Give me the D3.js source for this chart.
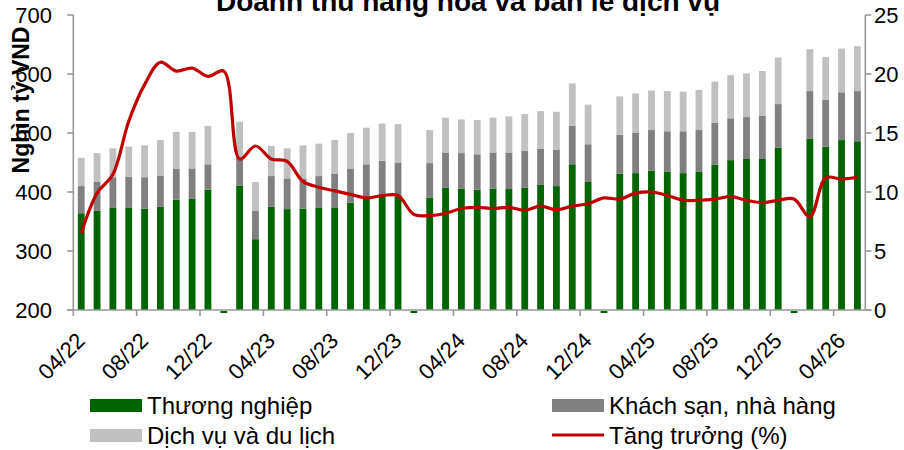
<!DOCTYPE html>
<html><head><meta charset="utf-8">
<script src="https://cdn.jsdelivr.net/npm/d3@7"></script>
<style>body{margin:0;background:#fff}svg{display:block;font-family:Arial,"Liberation Sans",sans-serif}</style>
</head><body><svg id="c" width="904" height="450"></svg>
<script>
const categories = ["04/22","05/22","06/22","07/22","08/22","09/22","10/22","11/22","12/22","01/23",
"02/23","03/23","04/23","05/23","06/23","07/23","08/23","09/23","10/23","11/23",
"12/23","01/24","02/24","03/24","04/24","05/24","06/24","07/24","08/24","09/24",
"10/24","11/24","12/24","01/25","02/25","03/25","04/25","05/25","06/25","07/25",
"08/25","09/25","10/25","11/25","12/25","01/26","02/26","03/26","04/26","05/26"];
const thuongNghiep = [364,368,373,373,372,375,387,389,404,null,
411,320,375,371,372,373,374,382,391,395,
392,null,390,407,406,404,406,405,407,412,
410,447,417,null,431,432,436,434,432,434,
446,454,456,456,475,null,490,477,488,486];
const khachSan = [46,49,52,53,53,53,52,51,43,null,
48,48,52,52,51,54,57,57,56,58,
58,null,59,60,60,60,61,62,63,61,
62,65,64,null,66,68,69,69,71,71,
71,71,71,73,74,null,81,79,81,85];
const dichVu = [48,49,49,51,54,60,63,62,65,null,
60,49,51,51,56,55,57,61,62,63,
65,null,56,59,57,58,59,61,62,64,
64,72,67,null,65,67,67,68,67,68,
70,73,74,76,79,null,71,73,74,76];
const tangTruong = [6.5,9.9,11.5,16.0,19.1,21.0,20.25,20.5,19.8,20.25,
12.8,13.9,12.8,12.6,10.9,10.4,10.1,9.8,9.5,9.7,
9.7,8.1,8.0,8.2,8.6,8.7,8.6,8.7,8.45,8.8,
8.5,8.8,9.0,9.5,9.4,9.9,10.0,9.7,9.3,9.3,
9.4,9.6,9.3,9.1,9.3,9.4,7.9,11.2,11.1,11.25];
const leftTicks = [200,300,400,500,600,700];
const rightTicks = [0,5,10,15,20,25];
const xTickLabels = categories.filter((d,i)=>i%4===0);
const seriesNames = ["Thương nghiệp","Khách sạn, nhà hàng","Dịch vụ và du lịch","Tăng trưởng (%)"];
const colors = ["#006400","#808080","#c0c0c0","#c00000"];
const title = "Doanh thu hàng hoá và bán lẻ dịch vụ";
const yTitle = "Nghìn tỷ VND";

const svg = d3.select("#c");
const L = 73.3, R = 865.3, T = 15, B = 310;
const axisColor = "#999";

const x = d3.scaleBand().domain(categories).range([L, R]).paddingInner(0.57).paddingOuter(0.285);
const step = x.step();
const yL = d3.scaleLinear().domain([200,700]).range([B,T]);
const yR = d3.scaleLinear().domain([0,25]).range([B,T]);

// stacked bars
const table = categories.map((c,i)=>({cat:c, tn:thuongNghiep[i]||0, ks:khachSan[i]||0, dv:dichVu[i]||0, missing: thuongNghiep[i]==null}));
const stack = d3.stack().keys(["tn","ks","dv"])(table);
const g = svg.append("g");
stack.forEach((s,si)=>{
  g.selectAll(null).data(s.filter(d=>!d.data.missing)).enter().append("rect")
    .attr("x", d=>x(d.data.cat))
    .attr("width", x.bandwidth())
    .attr("y", d=>yL(Math.max(200,d[1])))
    .attr("height", d=>yL(Math.max(200,d[0])) - yL(Math.max(200,d[1])))
    .attr("fill", colors[si]);
});
// missing (January) stubs drawn just below baseline
g.selectAll(null).data(table.filter(d=>d.missing)).enter().append("rect")
  .attr("x", d=>x(d.cat)).attr("width", x.bandwidth())
  .attr("y", yL(200)+1).attr("height", 2).attr("fill", colors[0]);

// axes
const ax = svg.append("g").attr("stroke", axisColor).attr("stroke-width", 1.6).attr("fill","none");
ax.append("line").attr("x1",L).attr("x2",L).attr("y1",yL(700)).attr("y2",B);
ax.append("line").attr("x1",R).attr("x2",R).attr("y1",yR(25)).attr("y2",B);
ax.append("line").attr("x1",L-6).attr("x2",R+6).attr("y1",B).attr("y2",B);
leftTicks.forEach(v=>ax.append("line").attr("x1",L-6).attr("x2",L).attr("y1",yL(v)).attr("y2",yL(v)));
rightTicks.forEach(v=>ax.append("line").attr("x1",R).attr("x2",R+6).attr("y1",yR(v)).attr("y2",yR(v)));
categories.forEach((c,i)=>{ if(i%4===0){ ax.append("line").attr("x1",x(c)-x.paddingOuter()*step).attr("x2",x(c)-x.paddingOuter()*step).attr("y1",B).attr("y2",B+6);} });

// tick labels
const fs = 22;
svg.append("g").selectAll("text").data(leftTicks).enter().append("text")
  .attr("x", 52).attr("y", d=>yL(d)).attr("dy","0.36em").attr("text-anchor","end")
  .attr("font-size", fs).text(d=>d);
svg.append("g").selectAll("text").data(rightTicks).enter().append("text")
  .attr("x", 874).attr("y", d=>yR(d)).attr("dy","0.36em").attr("text-anchor","start")
  .attr("font-size", fs).text(d=>d);
svg.append("g").selectAll("text").data(xTickLabels).enter().append("text")
  .attr("transform", d=>`translate(${x(d)+x.bandwidth()/2+5},${B+32}) rotate(-45)`)
  .attr("text-anchor","end").attr("font-size", fs).text(d=>d);

// line
const line = d3.line().x((d,i)=>x(categories[i])+x.bandwidth()/2).y(d=>yR(d)).curve(d3.curveCatmullRom.alpha(0.5));
svg.append("path").datum(tangTruong).attr("d", line).attr("fill","none").attr("stroke",colors[3]).attr("stroke-width",3.2).attr("stroke-linejoin","round");

// titles
svg.append("text").attr("x", 468).attr("y", 11).attr("text-anchor","middle").attr("font-size",28).attr("font-weight","bold").text(title);
svg.append("text").attr("transform","translate(29,100) rotate(-90)").attr("text-anchor","middle").attr("font-size",23).attr("font-weight","bold").text(yTitle);

// legend
const leg = [
  {i:0, x:90, y:399},
  {i:2, x:90, y:429},
  {i:1, x:552, y:399},
  {i:3, x:552, y:429}
];
leg.forEach(l=>{
  if(l.i===3){
    svg.append("line").attr("x1",l.x).attr("x2",l.x+52).attr("y1",l.y+6).attr("y2",l.y+6).attr("stroke",colors[3]).attr("stroke-width",3);
  } else {
    svg.append("rect").attr("x",l.x).attr("y",l.y).attr("width",52).attr("height",13).attr("fill",colors[l.i]);
  }
  svg.append("text").attr("x",l.x+57).attr("y",l.y+15).attr("font-size",24).text(seriesNames[l.i]);
});
</script></body></html>
